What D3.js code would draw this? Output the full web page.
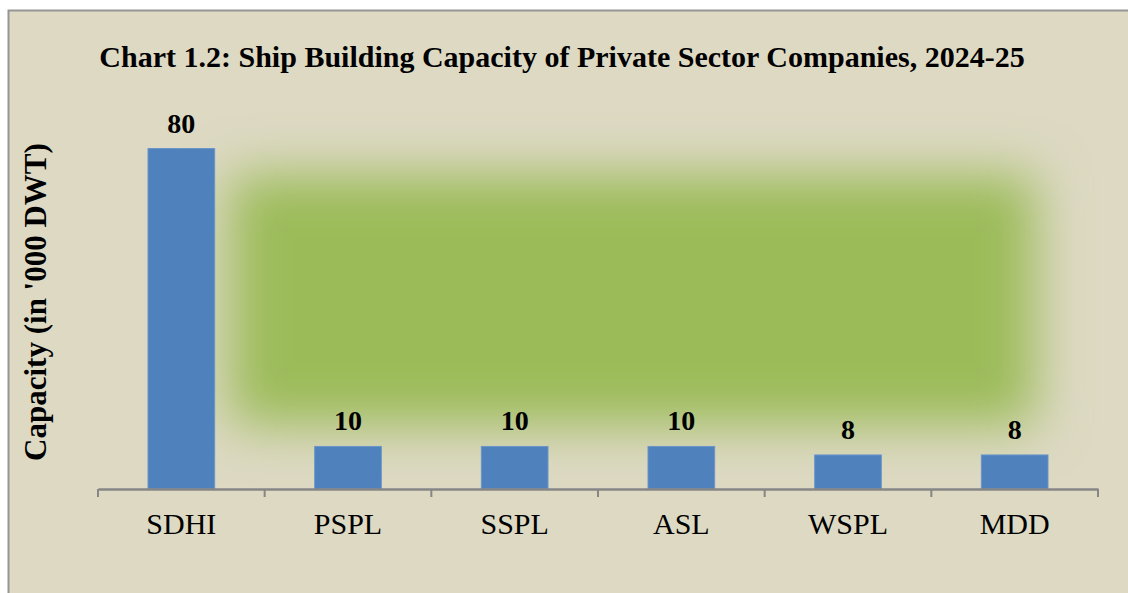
<!DOCTYPE html>
<html>
<head>
<meta charset="utf-8">
<script src="https://cdn.jsdelivr.net/npm/d3@7"></script>
<style>
  body { margin: 0; background: #fff; }
  svg text { font-family: "Liberation Serif", "Times New Roman", serif; }
</style>
</head>
<body>
<div id="chart"></div>
<script>
// data
const companies = ['SDHI', 'PSPL', 'SSPL', 'ASL', 'WSPL', 'MDD'];
const capacity = [80, 10, 10, 10, 8, 8];
const yMax = 90;

const width = 1128, height = 593;
const margin = { top: 106, right: 30, bottom: 104, left: 98 };
const graphWidth = width - margin.left - margin.right;
const graphHeight = height - margin.top - margin.bottom;

const svg = d3.select('#chart')
  .append('svg')
  .attr('width', width)
  .attr('height', height);

// background + border
svg.append('rect')
  .attr('x', 8.5).attr('y', 10.5)
  .attr('width', width).attr('height', height)
  .attr('fill', '#ddd9c3')
  .attr('stroke', '#969696')
  .attr('stroke-width', 2);

// green glow
const defs = svg.append('defs');
defs.append('filter')
  .attr('id', 'glow')
  .attr('x', '-30%').attr('y', '-50%')
  .attr('width', '160%').attr('height', '200%')
  .append('feGaussianBlur')
  .attr('stdDeviation', 26);

svg.append('rect')
  .attr('x', 230).attr('y', 175)
  .attr('width', 805).attr('height', 250)
  .attr('fill', '#9bbb59')
  .attr('filter', 'url(#glow)');

// title
svg.append('text')
  .attr('x', 562).attr('y', 67)
  .attr('text-anchor', 'middle')
  .attr('font-size', 30)
  .attr('font-weight', 'bold')
  .text('Chart 1.2: Ship Building Capacity of Private Sector Companies, 2024-25');

// y axis title
svg.append('text')
  .attr('transform', 'translate(46, 302) rotate(-90)')
  .attr('text-anchor', 'middle')
  .attr('font-size', 31)
  .attr('font-weight', 'bold')
  .text("Capacity (in '000 DWT)");

const graph = svg.append('g')
  .attr('transform', `translate(${margin.left}, ${margin.top})`);

//Scales
const x = d3.scaleBand()
  .domain(companies)
  .range([0, graphWidth])
  .paddingInner(0)
  .paddingOuter(0);

const y = d3.scaleLinear()
  .domain([0, yMax])
  .range([graphHeight, 0]);

const barW = x.step() * 0.4;
const data = companies.map((c, i) => ({ company: c, value: capacity[i] }));

// bars
graph.selectAll('rect.bar')
  .data(data)
  .enter()
  .append('rect')
  .attr('class', 'bar')
  .attr('x', d => x(d.company) + (x.bandwidth() - barW) / 2)
  .attr('y', d => y(d.value))
  .attr('width', barW)
  .attr('height', d => graphHeight - y(d.value))
  .attr('fill', '#4f81bd')
  .attr('stroke', '#6b95c9')
  .attr('stroke-width', 1);

// value labels
graph.selectAll('text.val')
  .data(data)
  .enter()
  .append('text')
  .attr('class', 'val')
  .attr('x', d => x(d.company) + x.bandwidth() / 2)
  .attr('y', d => y(d.value) - 16)
  .attr('text-anchor', 'middle')
  .attr('font-size', 28)
  .attr('font-weight', 'bold')
  .text(d => d.value);

// x axis
const xAxis = d3.axisBottom(x).tickSize(0).tickPadding(24).tickSizeOuter(0);
const xAxisGroup = graph.append('g')
  .attr('transform', `translate(0, ${graphHeight})`)
  .call(xAxis);

xAxisGroup.select('.domain')
  .attr('stroke', '#868686')
  .attr('stroke-width', 2.5);

xAxisGroup.selectAll('text')
  .attr('font-size', 30)
  .attr('font-family', '"Liberation Serif", "Times New Roman", serif')
  .attr('fill', '#000');

// boundary ticks between categories
const bounds = companies.map(c => x(c)).concat([graphWidth]);
xAxisGroup.selectAll('line.bound')
  .data(bounds)
  .enter()
  .append('line')
  .attr('class', 'bound')
  .attr('x1', d => d).attr('x2', d => d)
  .attr('y1', 0).attr('y2', 8)
  .attr('stroke', '#868686')
  .attr('stroke-width', 2);
</script>
</body>
</html>
